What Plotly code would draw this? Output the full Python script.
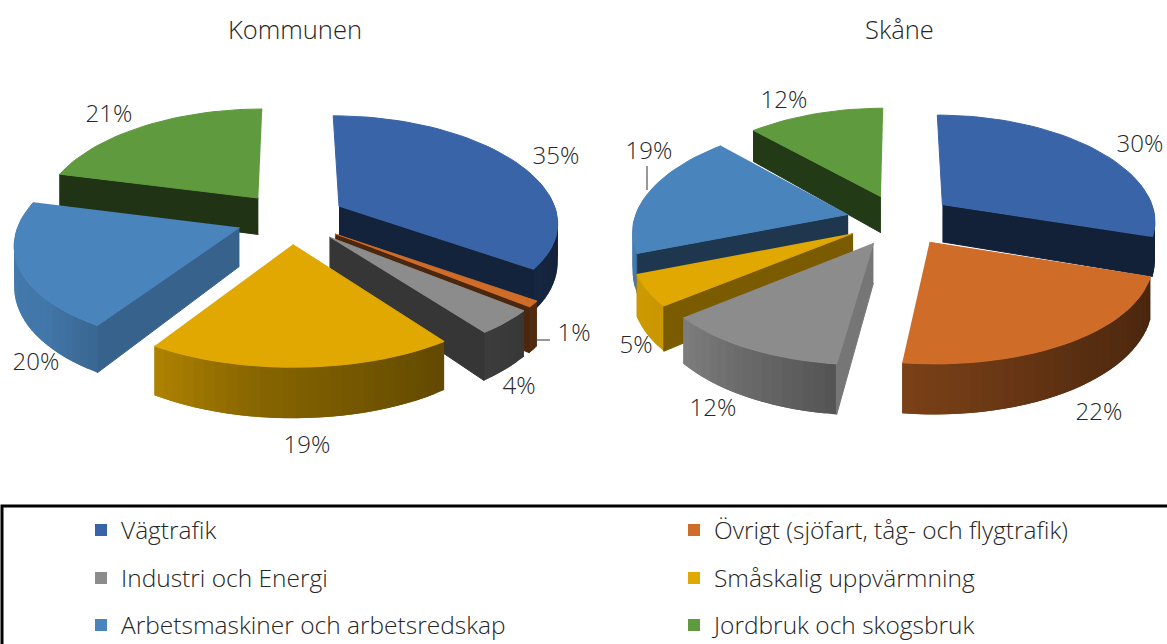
import numpy as np
import plotly.graph_objects as go

# ---- data ----
categories = ["Vägtrafik", "Övrigt (sjöfart, tåg- och flygtrafik)", "Industri och Energi",
              "Småskalig uppvärmning", "Arbetsmaskiner och arbetsredskap", "Jordbruk och skogsbruk"]
kommunen = [35, 1, 4, 19, 20, 21]
skane = [30, 22, 12, 5, 19, 12]
titles = ["Kommunen", "Skåne"]

# ---- style / layout ----
colors = ["#3A64A8", "#CE6C28", "#8C8C8C", "#E0A800", "#4A84BC", "#5F9A3E"]
FONT = "Open Sans"
TEXT = "#262626"
T, K, KX, EXPL, DEPTH = 103, 0.11, 0.14, 0.25, 38
pie_centres = [(291, 218), (900, 220)]
pie_radii = [219, 214]
title_pos = [(295, 29), (899, 29)]
label_pos = [
    [(556, 158), (574, 335), (519, 388), (307, 447), (36, 364), (109, 116)],
    [(1140, 146), (1099, 414), (713, 410), (636, 347), (649, 153), (784, 102)],
]
leaders = [[(530, 348), (537, 340), (550, 340)], [(647, 190), (647, 166)]]
legend_pos = [(81, 530), (674, 530), (81, 578), (674, 578), (81, 625), (674, 625)]
W, H = 1167, 644


def shade(hex_c, f):
    r, g, b = int(hex_c[1:3], 16), int(hex_c[3:5], 16), int(hex_c[5:7], 16)
    return f"rgb({int(r*f)},{int(g*f)},{int(b*f)})"


def rim_shade(phi):
    return float(np.interp(phi % 360, [0, 100, 142, 187, 212, 230, 284, 360], [.4, .33, .43, .6, .78, .9, .95, .9]))


def radial_shade(phi):
    return float(np.interp(phi % 360, [0, 97, 122, 140, 158, 200, 240, 360], [.8, .85, .75, .55, .42, .33, .4, .8]))


def project(cx, cy, rad, U, V, low=False):
    s = 1 / (1 - K * V)
    x = cx + rad * U / (1 - KX * V)
    y = cy + T * V * s
    if low:
        y = y + DEPTH * s ** 2
    return x, y


def poly(fig, xs, ys, color, outline=True):
    fig.add_trace(go.Scatter(x=list(xs), y=list(ys), mode="lines", fill="toself", fillcolor=color,
                             line=dict(color=color, width=1 if outline else 0), showlegend=False,
                             hoverinfo="skip"))


fig = go.Figure()

for (cx, cy), rad, values in zip(pie_centres, pie_radii, [kommunen, skane]):
    total = sum(values)
    edges = np.cumsum([0] + values) / total * 360.0
    mids = (edges[:-1] + edges[1:]) / 2
    order = sorted(range(len(values)), key=lambda i: -np.cos(np.radians(mids[i])))
    for i in order:
        a0, a1, m = edges[i], edges[i + 1], np.radians(mids[i])
        ou, ov = EXPL * np.sin(m), -EXPL * np.cos(m)
        n = max(3, int((a1 - a0) / 2.5))
        ts = np.linspace(a0, a1, n + 1)
        U = ou + np.sin(np.radians(ts))
        V = ov - np.cos(np.radians(ts))
        tx, ty = project(cx, cy, rad, U, V)
        bx, by = project(cx, cy, rad, U, V, True)
        ax, ay = project(cx, cy, rad, np.array([ou]), np.array([ov]))
        alx, aly = project(cx, cy, rad, np.array([ou]), np.array([ov]), True)
        # rim wall, painted strip by overlapping strip for the shading (only the part facing the viewer)
        for j in range(n):
            tm = (ts[j] + ts[j + 1]) / 2
            if np.cos(np.radians(tm)) > 0.12:
                continue
            e = min(j + 2, n)
            poly(fig, [tx[j], *tx[j + 1:e + 1], *bx[j + 1:e + 1][::-1], bx[j]],
                 [ty[j], *ty[j + 1:e + 1], *by[j + 1:e + 1][::-1], by[j]],
                 shade(colors[i], rim_shade(tm)), outline=False)
        # radial walls (only those facing the viewer)
        for j, normal in ((0, a0 - 90), (-1, a1 + 90)):
            if np.cos(np.radians(normal)) < 0:
                poly(fig, [ax[0], tx[j], bx[j], alx[0]], [ay[0], ty[j], by[j], aly[0]],
                     shade(colors[i], radial_shade(normal)))
        # top face
        poly(fig, [ax[0], *tx], [ay[0], *ty], colors[i])

# leader lines
for pts in leaders:
    fig.add_trace(go.Scatter(x=[p[0] for p in pts], y=[p[1] for p in pts], mode="lines",
                             line=dict(color="#333333", width=1), showlegend=False, hoverinfo="skip"))

# data labels
for values, pos in zip([kommunen, skane], label_pos):
    fig.add_trace(go.Scatter(x=[p[0] for p in pos], y=[p[1] for p in pos], mode="text",
                             text=[f"{v}%" for v in values], textposition="middle center",
                             textfont=dict(family=FONT, size=24, color=TEXT, weight=300),
                             showlegend=False, hoverinfo="skip"))

# legend entries
layout_legends = {}
for i, (name, col, (lx, ly)) in enumerate(zip(categories, colors, legend_pos)):
    key = "legend" if i == 0 else f"legend{i + 1}"
    fig.add_trace(go.Scatter(x=[None], y=[None], mode="markers", name=name, legend=key,
                             marker=dict(symbol="square", size=12, color=col), showlegend=True))
    layout_legends[key] = dict(x=lx / W, y=1 - ly / H, xanchor="left", yanchor="middle",
                               bgcolor="rgba(0,0,0,0)", borderwidth=0,
                               font=dict(family=FONT, size=24.5, color=TEXT, weight=300))

fig.update_layout(
    width=W, height=H, margin=dict(l=0, r=0, t=0, b=0, autoexpand=False), autosize=False,
    paper_bgcolor="white", plot_bgcolor="white",
    xaxis=dict(range=[0, W], visible=False, fixedrange=True),
    yaxis=dict(range=[H, 0], visible=False, fixedrange=True),
    shapes=[dict(type="rect", xref="x", yref="y", x0=2, x1=W + 10, y0=506, y1=H + 10,
                 line=dict(color="black", width=3), fillcolor="rgba(0,0,0,0)", layer="below")],
    annotations=[dict(x=px, y=py, xref="x", yref="y", text=t, showarrow=False,
                      font=dict(family=FONT, size=25.5, color=TEXT, weight=300))
                 for t, (px, py) in zip(titles, title_pos)],
    **layout_legends,
)
fig.write_html("out.html", config={"displayModeBar": False},
               post_script="document.body.style.margin='0';document.documentElement.style.overflow='hidden';")
